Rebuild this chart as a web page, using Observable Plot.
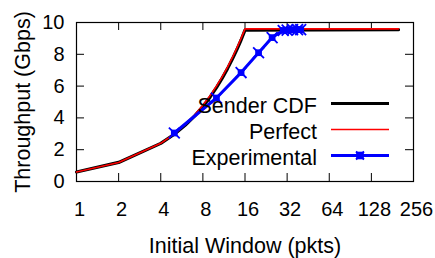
<!DOCTYPE html>
<html>
<head>
<meta charset="utf-8">
<script src="https://cdn.jsdelivr.net/npm/d3@7"></script>
<script src="https://cdn.jsdelivr.net/npm/@observablehq/plot@0.6"></script>
<style>
  html, body { margin: 0; padding: 0; background: white; }
  #chart { width: 435px; height: 258px; }
</style>
</head>
<body>
<div id="chart"></div>
<script>
// Data
const xTicks = [1, 2, 4, 8, 16, 32, 64, 128, 256];
const yTicks = [0, 2, 4, 6, 8, 10];

const modelIW = [1, 2, 4, 5, 6, 7, 8, 9, 10, 11, 12, 13, 14, 15, 16, 200];
const perfect = [0.6, 1.2, 2.4, 3.0, 3.6, 4.2, 4.8, 5.4, 6.0, 6.6, 7.2, 7.8, 8.4, 9.0, 9.6, 9.6];
const senderCdf = [0.6, 1.2, 2.4, 2.97, 3.55, 4.13, 4.72, 5.3, 5.9, 6.5, 7.1, 7.7, 8.3, 8.9, 9.52, 9.55];

const expIW = [5, 10, 15, 20, 25, 30, 32, 35, 38, 40];
const experimental = [3.05, 5.25, 6.85, 8.1, 9.05, 9.5, 9.52, 9.55, 9.55, 9.55];

const seriesNames = ["Sender CDF", "Perfect", "Experimental"];

const cdfRows = modelIW.map((x, i) => ({x, y: senderCdf[i]}));
const perfRows = modelIW.map((x, i) => ({x, y: perfect[i]}));
const expRows = expIW.map((x, i) => ({x, y: experimental[i]}));

const W = 435, H = 258;
const mL = 76, mR = 22, mT = 22, mB = 77;
const frameW = W - mL - mR, frameH = H - mT - mB;
const tickLen = 8;
const font = "'Liberation Sans', Arial, Helvetica, sans-serif";

const chart = Plot.plot({
  width: W,
  height: H,
  marginLeft: mL,
  marginRight: mR,
  marginTop: mT,
  marginBottom: mB,
  x: {type: "log", base: 2, domain: [1, 256]},
  y: {domain: [0, 10]},
  style: {fontFamily: font, background: "white", color: "black"},
  marks: [
    Plot.tickX(xTicks, {x: d => d, insetTop: frameH - tickLen, stroke: "black", strokeWidth: 1}),
    Plot.tickX(xTicks, {x: d => d, insetBottom: frameH - tickLen, stroke: "black", strokeWidth: 1}),
    Plot.tickY(yTicks, {y: d => d, insetRight: frameW - tickLen, stroke: "black", strokeWidth: 1}),
    Plot.tickY(yTicks, {y: d => d, insetLeft: frameW - tickLen, stroke: "black", strokeWidth: 1}),
    Plot.frame({stroke: "black", strokeWidth: 1.2}),
    Plot.axisX(xTicks, {anchor: "bottom", tickSize: 0, tickPadding: 20, fontSize: 20, dx: 3, label: null, tickFormat: d => String(d)}),
    Plot.axisY(yTicks, {anchor: "left", tickSize: 0, tickPadding: 12, fontSize: 20, label: null, tickFormat: d => String(d)}),
    Plot.line(cdfRows, {x: "x", y: "y", stroke: "black", strokeWidth: 3.2}),
    Plot.line(perfRows, {x: "x", y: "y", stroke: "#ff0000", strokeWidth: 1.6}),
    Plot.line(expRows, {x: "x", y: "y", stroke: "#0000ff", strokeWidth: 3}),
    Plot.dot(expRows, {x: "x", y: "y", symbol: "square", r: 3.8, fill: "#0000ff"}),
    Plot.dot(expRows, {x: "x", y: "y", symbol: "times", r: 5, stroke: "#0000ff", strokeWidth: 1.8}),
    Plot.text(["Initial Window (pkts)"], {frameAnchor: "bottom", textAnchor: "middle", dy: 65, lineAnchor: "middle", fontSize: 21.5, fill: "black"}),
    Plot.text(["Throughput (Gbps)"], {frameAnchor: "left", textAnchor: "middle", dx: -53, rotate: -90, lineAnchor: "middle", fontSize: 21.5, fill: "black"})
  ]
});

// Legend inside the plot (top-right area)
const svg = d3.select(chart);
const legendColors = ["black", "#ff0000", "#0000ff"];
const legendWidths = [3.2, 1.6, 3];
const g = svg.append("g").attr("font-family", font).attr("font-size", 21.5);
seriesNames.forEach((name, i) => {
  const baseY = 113 + i * 26;
  const lineY = baseY - 9.5;
  g.append("text")
    .attr("x", 317).attr("y", baseY)
    .attr("text-anchor", "end").attr("fill", "black")
    .text(name);
  g.append("line")
    .attr("x1", 331).attr("x2", 389)
    .attr("y1", lineY).attr("y2", lineY)
    .attr("stroke", legendColors[i]).attr("stroke-width", legendWidths[i]);
  if (i === 2) {
    g.append("rect").attr("x", 356.2).attr("y", lineY - 3.8).attr("width", 7.6).attr("height", 7.6).attr("fill", "#0000ff");
    g.append("path").attr("d", `M${360-4},${lineY-4}L${360+4},${lineY+4}M${360-4},${lineY+4}L${360+4},${lineY-4}`)
      .attr("stroke", "#0000ff").attr("stroke-width", 1.8);
  }
});

document.getElementById("chart").appendChild(chart);
</script>
</body>
</html>
